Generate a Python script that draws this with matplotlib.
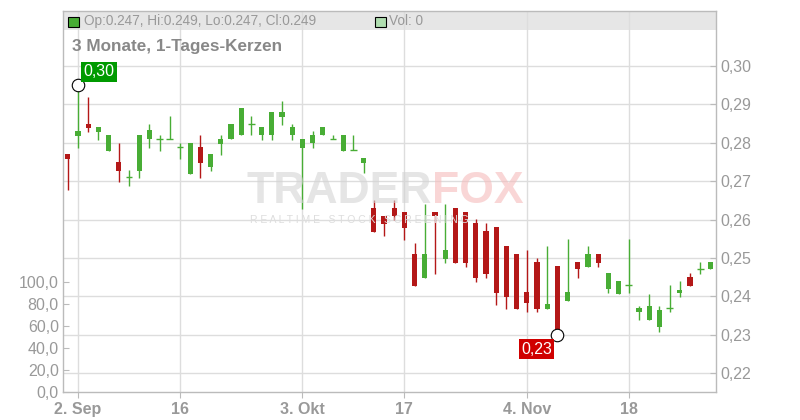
import matplotlib
matplotlib.use("Agg")
import matplotlib.pyplot as plt
from matplotlib.patches import Rectangle
from matplotlib.ticker import FixedLocator, FuncFormatter

plt.rcParams['font.family'] = ['Liberation Sans', 'DejaVu Sans']

# daily candles, 30 Aug .. 28 Nov (trading-day index)
opens = [0.2771, 0.2818, 0.2849, 0.2829, 0.2779, 0.2750, 0.2710, 0.2727, 0.2809, 0.2809,
         0.2809, 0.2788, 0.2719, 0.2789, 0.2738, 0.2798, 0.2809, 0.2819, 0.2848, 0.2819,
         0.2819, 0.2868, 0.2819, 0.2787, 0.2799, 0.2819, 0.2810, 0.2779, 0.2780, 0.2748,
         0.2630, 0.2609, 0.2630, 0.2620, 0.2510, 0.2449, 0.2620, 0.2498, 0.2630, 0.2620,
         0.2591, 0.2570, 0.2581, 0.2531, 0.2510, 0.2411, 0.2490, 0.2368, 0.2479, 0.2389,
         0.2490, 0.2477, 0.2510, 0.2418, 0.2405, 0.2430, 0.2358, 0.2339, 0.2319, 0.2370,
         0.2410, 0.2451, 0.2471, 0.2470]
highs = [0.2771, 0.2951, 0.2920, 0.2841, 0.2820, 0.2800, 0.2729, 0.2820, 0.2849, 0.2820,
         0.2870, 0.2800, 0.2800, 0.2820, 0.2771, 0.2820, 0.2850, 0.2891, 0.2870, 0.2841,
         0.2880, 0.2909, 0.2850, 0.2810, 0.2831, 0.2841, 0.2820, 0.2820, 0.2820, 0.2760,
         0.2651, 0.2609, 0.2651, 0.2620, 0.2540, 0.2641, 0.2620, 0.2641, 0.2630, 0.2620,
         0.2602, 0.2591, 0.2581, 0.2531, 0.2510, 0.2521, 0.2500, 0.2531, 0.2479, 0.2549,
         0.2490, 0.2531, 0.2510, 0.2461, 0.2440, 0.2549, 0.2375, 0.2406, 0.2375, 0.2430,
         0.2440, 0.2461, 0.2490, 0.2490]
lows = [0.2677, 0.2787, 0.2829, 0.2807, 0.2779, 0.2699, 0.2688, 0.2709, 0.2787, 0.2779,
        0.2809, 0.2758, 0.2719, 0.2709, 0.2727, 0.2769, 0.2809, 0.2819, 0.2819, 0.2807,
        0.2807, 0.2847, 0.2807, 0.2628, 0.2787, 0.2819, 0.2810, 0.2779, 0.2780, 0.2721,
        0.2568, 0.2558, 0.2599, 0.2548, 0.2428, 0.2449, 0.2459, 0.2488, 0.2488, 0.2477,
        0.2438, 0.2449, 0.2378, 0.2368, 0.2368, 0.2358, 0.2358, 0.2368, 0.2300, 0.2389,
        0.2449, 0.2477, 0.2477, 0.2410, 0.2405, 0.2410, 0.2339, 0.2339, 0.2308, 0.2358,
        0.2399, 0.2428, 0.2458, 0.2470]
closes = [0.2758, 0.2831, 0.2839, 0.2841, 0.2820, 0.2727, 0.2710, 0.2820, 0.2832, 0.2809,
          0.2809, 0.2788, 0.2800, 0.2747, 0.2771, 0.2810, 0.2850, 0.2891, 0.2848, 0.2841,
          0.2880, 0.2880, 0.2841, 0.2810, 0.2820, 0.2841, 0.2810, 0.2820, 0.2780, 0.2760,
          0.2568, 0.2589, 0.2608, 0.2579, 0.2428, 0.2510, 0.2608, 0.2521, 0.2488, 0.2488,
          0.2449, 0.2459, 0.2410, 0.2399, 0.2368, 0.2384, 0.2367, 0.2380, 0.2313, 0.2411,
          0.2470, 0.2510, 0.2488, 0.2461, 0.2440, 0.2430, 0.2370, 0.2375, 0.2365, 0.2370,
          0.2417, 0.2428, 0.2471, 0.2490]
volumes = [0] * 64

tick_pos = [1, 11, 23, 33, 45, 55]
tick_labels = ['2. Sep', '16', '3. Okt', '17', '4. Nov', '18']
price_ticks = [0.22, 0.23, 0.24, 0.25, 0.26, 0.27, 0.28, 0.29, 0.30]
vol_ticks = [0, 20, 40, 60, 80, 100]

GREEN = '#48ad35'
RED = '#b41818'
GRID = '#dddddd'
FRAME = '#bbbbbb'
TXT = '#999999'

fig = plt.figure(figsize=(8, 4.2), dpi=100)
ax = fig.add_axes([63 / 800, 28 / 420, 653 / 800, 381 / 420])
ax.set_xlim(-0.47, 63.55)
ax.set_ylim(0.2151, 0.3143)
ax.set_axisbelow(True)

# volume axis on the left (twinx moves the main ticks, so fix them afterwards)
ax2 = ax.twinx()
ax2.set_ylim(0, 346)
ax2.bar(range(len(volumes)), volumes, width=0.6, color='#a8d8a0')
ax2.yaxis.tick_left()
ax2.yaxis.set_major_locator(FixedLocator(vol_ticks))
ax2.yaxis.set_major_formatter(FuncFormatter(lambda v, p: f'{v:.1f}'.replace('.', ',')))
ax2.tick_params(axis='y', colors=FRAME, labelcolor=TXT, labelsize=11.5, direction='in',
                length=4, pad=3)
for s in ax2.spines.values():
    s.set_visible(False)

# header strip
ax.add_patch(Rectangle((0, 1 - 19 / 381), 1, 19 / 381, transform=ax.transAxes,
                       facecolor='#e6e6e6', edgecolor='none', zorder=0.1))

# candles
for i in range(len(opens)):
    o, h, l, c = opens[i], highs[i], lows[i], closes[i]
    col = GREEN if c >= o else RED
    ax.vlines(i, l, h, color=col, linewidth=1.0, zorder=3)
    height = abs(c - o)
    if height < 0.0003:
        ax.hlines(o, i - 0.33, i + 0.33, color=col, linewidth=1.0, zorder=3)
    else:
        ax.bar(i, height, bottom=min(o, c), width=0.52, color=col, zorder=4, linewidth=0)

# price axis on the right
ax.yaxis.tick_right()
ax.yaxis.set_major_locator(FixedLocator(price_ticks))
ax.yaxis.set_major_formatter(FuncFormatter(lambda v, p: f'{v:.2f}'.replace('.', ',')))
ax.xaxis.set_major_locator(FixedLocator(tick_pos))
ax.set_xticklabels(tick_labels, fontweight='bold')
ax.tick_params(axis='y', colors=FRAME, labelcolor=TXT, labelsize=11.5, direction='in',
               length=4, pad=3)
ax.tick_params(axis='x', colors=FRAME, labelcolor=TXT, labelsize=11.5, length=4, pad=3)
ax.grid(True, color=GRID, linewidth=1.0)
for s in ax.spines.values():
    s.set_color(FRAME)
    s.set_linewidth(1.0)

# high / low markers
hi_i = highs.index(max(highs))
lo_i = lows.index(min(lows))
ax.plot(hi_i, highs[hi_i], 'o', ms=9, mfc='white', mec='black', mew=0.8, zorder=6)
ax.plot(lo_i, lows[lo_i], 'o', ms=9, mfc='white', mec='black', mew=0.8, zorder=6)
ax.annotate(f'{highs[hi_i]:.2f}'.replace('.', ','), (hi_i, highs[hi_i]), xytext=(4, 4),
            textcoords='offset points', color='white', fontsize=11.5, ha='left', va='bottom',
            bbox=dict(boxstyle='square,pad=0.15', fc='#009a00', ec='none'), zorder=7)
ax.annotate(f'{lows[lo_i]:.2f}'.replace('.', ','), (lo_i, lows[lo_i]), xytext=(-4, -5),
            textcoords='offset points', color='white', fontsize=11.5, ha='right', va='top',
            bbox=dict(boxstyle='square,pad=0.15', fc='#d00000', ec='none'), zorder=7)

# watermark
fig.text(432 / 800, 1 - 203 / 420, 'TRADER', fontsize=32, fontweight='bold', color='#d4d4d4',
         alpha=0.6, ha='right', va='baseline', zorder=0)
fig.text(432 / 800, 1 - 203 / 420, 'FOX', fontsize=32, fontweight='bold', color='#f5bcbc',
         alpha=0.6, ha='left', va='baseline', zorder=0)
fig.text(250 / 800, 1 - 223 / 420, 'R E A L T I M E   S T O C K   S C R E E N I N G',
         fontsize=7.5, color='#dddddd', ha='left', va='baseline', zorder=0)

# header texts
fig.add_artist(Rectangle((68 / 800, 1 - 27 / 420), 11 / 800, 10 / 420, transform=fig.transFigure,
                         facecolor=GREEN, edgecolor='black', linewidth=0.8, zorder=5))
fig.text(84 / 800, 1 - 21 / 420,
         f'Op:{opens[-1]:.3f}, Hi:{highs[-1]:.3f}, Lo:{lows[-1]:.3f}, Cl:{closes[-1]:.3f}',
         fontsize=9.8, color=TXT, va='center')
fig.add_artist(Rectangle((375 / 800, 1 - 27 / 420), 11 / 800, 10 / 420, transform=fig.transFigure,
                         facecolor='#b0deb0', edgecolor='black', linewidth=0.8, zorder=5))
fig.text(389 / 800, 1 - 21 / 420, f'Vol: {volumes[-1]}', fontsize=9.8, color=TXT, va='center')
fig.text(72 / 800, 1 - 47 / 420, '3 Monate, 1-Tages-Kerzen', fontsize=12.3, fontweight='bold',
         color='#888888', va='center')

fig.savefig('out.png', dpi=100)
